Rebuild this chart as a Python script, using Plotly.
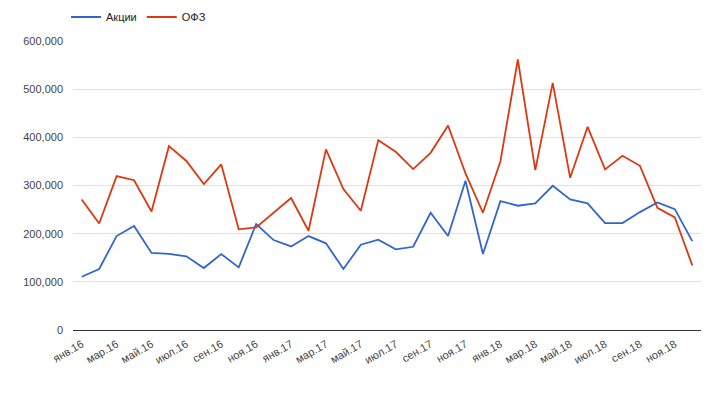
import plotly.graph_objects as go

months = ["янв.16","фев.16","мар.16","апр.16","май.16","июн.16","июл.16","авг.16","сен.16","окт.16","ноя.16","дек.16",
          "янв.17","фев.17","мар.17","апр.17","май.17","июн.17","июл.17","авг.17","сен.17","окт.17","ноя.17","дек.17",
          "янв.18","фев.18","мар.18","апр.18","май.18","июн.18","июл.18","авг.18","сен.18","окт.18","ноя.18","дек.18"]

akcii = [110600, 126600, 195000, 216000, 160000, 158000, 153000, 128600, 157700, 130000, 220000, 186700,
         173500, 195000, 180000, 126600, 177000, 187400, 167400, 172800, 243400, 195000, 309800, 157700,
         267600, 258000, 262800, 299400, 271200, 262800, 222000, 222000, 244800, 264900, 251000, 184600]

ofz = [271000, 221000, 319500, 311000, 246000, 381700, 351000, 303000, 343700, 209000, 213000, 243000,
       274000, 206000, 374900, 292500, 247500, 394200, 370000, 334000, 367800, 424700, 325100, 243400,
       350000, 561600, 332000, 513000, 316000, 421800, 333400, 361600, 340900, 253700, 233800, 134200]

tick_labels = months[::2]

font_family = "Liberation Sans, Arial, sans-serif"

# page body has an 8px default margin, so the figure is sized to fill the rest
W, H = 705, 390

fig = go.Figure()
fig.add_trace(go.Scatter(x=months, y=akcii, mode="lines", name="Акции",
                         line=dict(color="#3366cc", width=1.8)))
fig.add_trace(go.Scatter(x=months, y=ofz, mode="lines", name="ОФЗ",
                         line=dict(color="#dc3912", width=1.8)))

fig.update_layout(
    width=W, height=H,
    margin=dict(l=65, r=12, t=33, b=68, autoexpand=False),
    paper_bgcolor="white", plot_bgcolor="white",
    font=dict(family=font_family, size=11, color="#444444"),
    legend=dict(orientation="h", xref="container", yref="container",
                x=58/W, xanchor="left", y=1 - 9/H, yanchor="middle",
                font=dict(size=11, color="#222222"), itemwidth=30, tracegroupgap=0),
    showlegend=True,
)
fig.update_xaxes(
    type="category", categoryorder="array", categoryarray=months,
    range=[-0.5, 35.5], automargin=False,
    tickmode="array", tickvals=tick_labels, ticktext=tick_labels,
    tickangle=-30, showgrid=False, ticks="", showline=False, zeroline=False,
    ticklabelstandoff=5,
    tickfont=dict(size=11, color="#444444"),
)
fig.update_yaxes(
    range=[0, 600000], tickmode="linear", tick0=0, dtick=100000, automargin=False,
    tickformat=",d", showgrid=True, gridcolor="#e0e0e0", gridwidth=1,
    zeroline=True, zerolinecolor="#333333", zerolinewidth=1,
    ticks="", ticklen=0, ticklabelstandoff=9,
    tickfont=dict(size=11, color="#444444"),
)

fig.write_html("out.html")
